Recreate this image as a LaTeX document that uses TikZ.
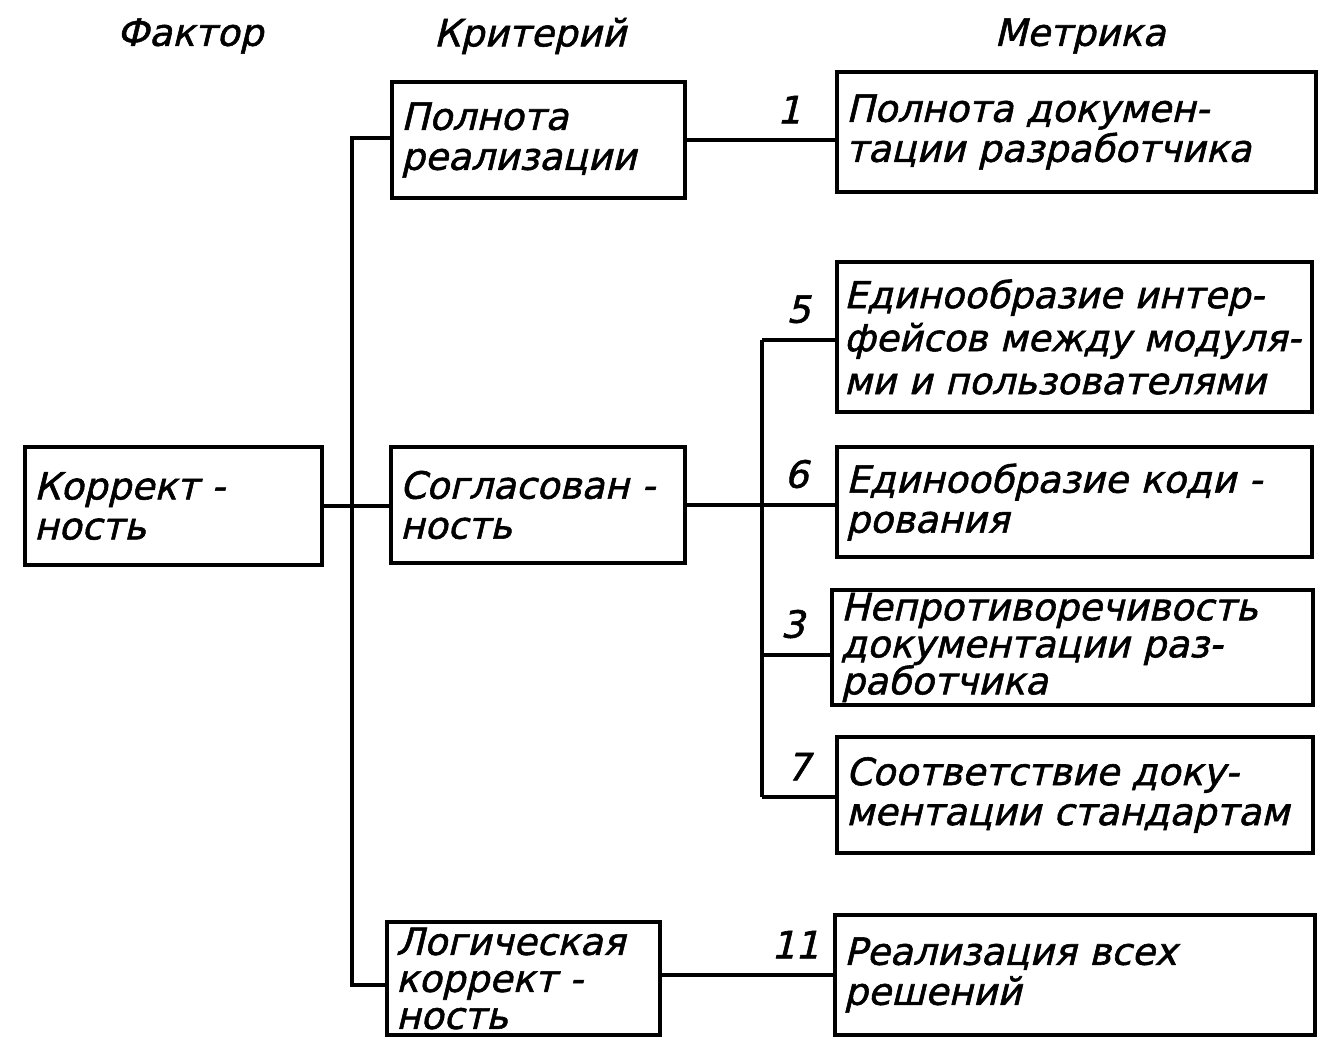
\documentclass[tikz,border=0pt]{standalone}
\usepackage{fontspec}
\newfontfamily\gost{DejaVu Sans}[FakeSlant=0.24, FakeBold=1.5]
\newcommand\oneline[1]{\mbox{#1}}
\begin{document}
\begin{tikzpicture}[x=1pt,y=-1pt,
  every node/.style={font=\gost\fontsize{37.5}{40}\selectfont},
  tight/.style={font=\gost\fontsize{37.5}{37}\selectfont},
  bx/.style={draw, line width=4.5pt, align=left, inner xsep=9pt, inner ysep=0pt, anchor=center},
  conn/.style={line width=3.5pt},
  lab/.style={inner sep=0pt, yshift=15pt}]
\useasboundingbox (0,0) rectangle (1338,1052);
% headers
\node (h1) at (190,36) {Фактор};
\node (h2) at (530,36) {Критерий};
\node (h3) at (1080,36) {Метрика};
% factor
\node[bx, text width=279pt, minimum height=118pt] (kor) at (173.5,506) {\oneline{Коррект -}\\\oneline{ность}};
% criteria
\node[bx, text width=275pt, minimum height=116pt] (pol) at (538.5,140) {\oneline{Полнота}\\\oneline{реализации}};
\node[bx, text width=276pt, minimum height=116pt] (sog) at (538,505) {\oneline{Согласован -}\\\oneline{ность}};
\node[bx, tight, text width=255pt, minimum height=113pt] (log) at (523.5,978.5) {\oneline{Логическая}\\\oneline{коррект -}\\\oneline{ность}};
% metrics
\node[bx, text width=461pt, minimum height=120pt] (m1) at (1076.5,132) {\oneline{Полнота докумен-}\\\oneline{тации разработчика}};
\node[bx, font=\gost\fontsize{37}{43}\selectfont, inner xsep=7pt, text width=461pt, minimum height=150pt] (m5) at (1074.5,337) {\oneline{Единообразие интер-}\\\oneline{фейсов между модуля-}\\\oneline{ми и пользователями}};
\node[bx, text width=457pt, minimum height=110pt] (m6) at (1074.5,502) {\oneline{Единообразие коди -}\\\oneline{рования}};
\node[bx, tight, text width=463pt, minimum height=115pt] (m3) at (1072.5,647.5) {\oneline{Непротиворечивость}\\\oneline{документации раз-}\\\oneline{работчика}};
\node[bx, text width=458pt, minimum height=116pt] (m7) at (1075,795) {\oneline{Соответствие доку-}\\\oneline{ментации стандартам}};
\node[bx, text width=462pt, minimum height=120pt] (m11) at (1075,975) {\oneline{Реализация всех}\\\oneline{решений}};
% left bus
\coordinate (lbT) at (352,138);
\coordinate (lbB) at (352,985);
\draw[conn] (pol.west |- lbT) -- (lbT) -- (lbB) -- (log.west |- lbB);
\draw[conn] (kor.east) -- (sog.west |- kor.east);
% right bus
\coordinate (rb5) at (762,340);
\coordinate (rb3) at (762,655);
\coordinate (rb7) at (762,797);
\draw[conn] (sog.east) -- node[lab, pos=0.74, above] {6} (m6.west |- sog.east);
\draw[conn] (rb5) -- node[lab, pos=0.5, above] {5} (m5.west |- rb5);
\draw[conn] (rb3) -- node[lab, pos=0.45, above] {3} (m3.west |- rb3);
\draw[conn] (rb7) -- node[lab, pos=0.5, above] {7} (m7.west |- rb7);
\draw[conn] (rb5) -- (rb7);
\draw[conn] (pol.east) -- node[lab, pos=0.69, above] {1} (m1.west |- pol.east);
\draw[conn] (log.east |- m11.west) -- node[lab, pos=0.78, above] {11} (m11.west);
\end{tikzpicture}
\end{document}
